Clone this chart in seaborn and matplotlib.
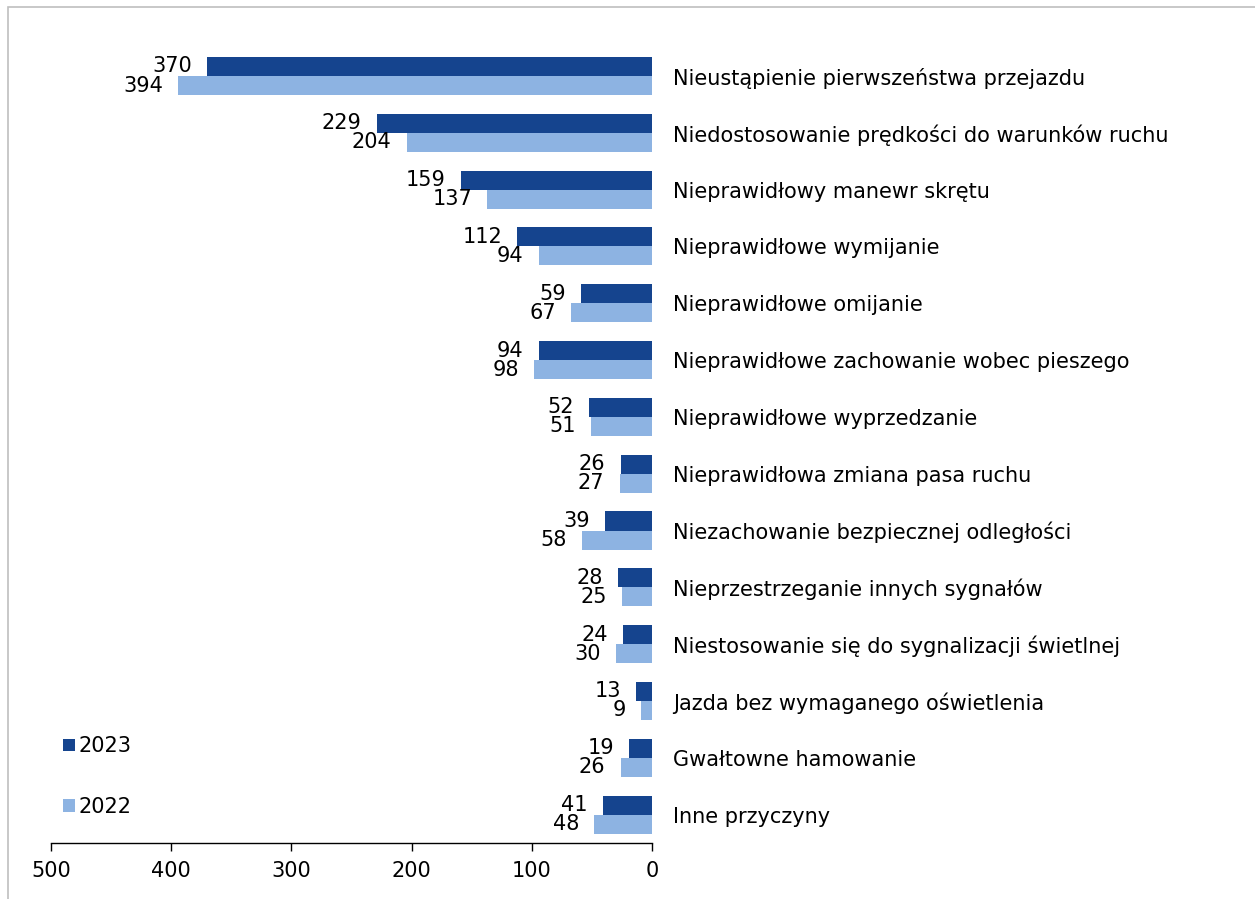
import pandas as pd
import matplotlib
matplotlib.use("Agg")
import matplotlib.pyplot as plt
from matplotlib.patches import Rectangle
import seaborn as sns

# dane
categories = [
    "Nieustąpienie pierwszeństwa przejazdu",
    "Niedostosowanie prędkości do warunków ruchu",
    "Nieprawidłowy manewr skrętu",
    "Nieprawidłowe wymijanie",
    "Nieprawidłowe omijanie",
    "Nieprawidłowe zachowanie wobec pieszego",
    "Nieprawidłowe wyprzedzanie",
    "Nieprawidłowa zmiana pasa ruchu",
    "Niezachowanie bezpiecznej odległości",
    "Nieprzestrzeganie innych sygnałów",
    "Niestosowanie się do sygnalizacji świetlnej",
    "Jazda bez wymaganego oświetlenia",
    "Gwałtowne hamowanie",
    "Inne przyczyny",
]
values_2023 = [370, 229, 159, 112, 59, 94, 52, 26, 39, 28, 24, 13, 19, 41]
values_2022 = [394, 204, 137, 94, 67, 98, 51, 27, 58, 25, 30, 9, 26, 48]
years = ["2023", "2022"]
x_ticks = [500, 400, 300, 200, 100, 0]

colors = {"2023": "#15448E", "2022": "#8DB3E2"}

df = pd.DataFrame({
    "kategoria": categories * 2,
    "wartosc": values_2023 + values_2022,
    "rok": ["2023"] * len(categories) + ["2022"] * len(categories),
})

sns.set_theme(style="white")
plt.rcParams["font.family"] = ["DejaVu Sans"]
plt.rcParams["text.color"] = "black"
plt.rcParams["xtick.labelcolor"] = "black"
plt.rcParams["ytick.labelcolor"] = "black"

FS = 15

W, H = 1255, 899
fig = plt.figure(figsize=(W / 100, H / 100), dpi=100)
ax = fig.add_axes([51 / W, 1 - 843 / H, (652 - 51) / W, (843 - 47.6) / H])

sns.barplot(data=df, y="kategoria", x="wartosc", hue="rok", hue_order=years,
            order=categories, palette=colors, orient="h", width=0.67,
            saturation=1, linewidth=0, ax=ax)

ax.set_xlim(500, 0)
ax.set_ylim(len(categories) - 0.5, -0.5)
ax.set_xticks(x_ticks)
ax.set_xticklabels([str(t) for t in x_ticks], fontsize=FS)
ax.set_xlabel("")
ax.set_ylabel("")

ax.yaxis.tick_right()
ax.tick_params(axis="y", length=0, pad=15, labelsize=FS)
ax.tick_params(axis="x", direction="out", length=6, width=1, color="black",
               bottom=True, pad=7)

for s in ["top", "left", "right"]:
    ax.spines[s].set_visible(False)
ax.spines["bottom"].set_color("black")
ax.spines["bottom"].set_linewidth(1)

for cont in ax.containers:
    ax.bar_label(cont, padding=11, fontsize=FS, color="black")

ax.legend(loc="upper left", bbox_to_anchor=(53 / W, 1 - 726 / H),
          bbox_transform=fig.transFigure, frameon=False, fontsize=FS,
          handlelength=0.55, handleheight=0.55, handletextpad=0.15,
          labelspacing=1.95, borderpad=0)

# ramka wykresu
fig.patches.append(Rectangle((8 / W, -0.1), 1.2, 1 - 7 / H + 0.1,
                             transform=fig.transFigure, fill=False,
                             edgecolor="#BFBFBF", linewidth=1.2))

plt.savefig("out.png", dpi=100)
